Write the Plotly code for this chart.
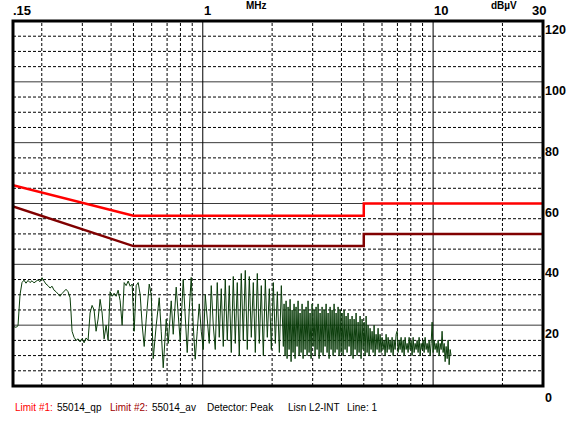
import math
import plotly.graph_objects as go

# ---------------- data ----------------
# Limit lines (EN 55014)
lim1_freq = [0.15, 0.5, 5.0, 5.0, 30.0]
lim1_db = [66, 56, 56, 60, 60]
lim2_freq = [0.15, 0.5, 5.0, 5.0, 30.0]
lim2_db = [59, 46, 46, 50, 50]

freq_a = [0.1515, 0.1546, 0.1577, 0.1609, 0.1641, 0.1674, 0.1708, 0.1743, 0.1778, 0.1814,
          0.1850, 0.1888, 0.1926, 0.1965, 0.2005, 0.2045, 0.2087, 0.2129, 0.2172, 0.2216,
          0.2261, 0.2307, 0.2353, 0.2401, 0.2449, 0.2499, 0.2549, 0.2601, 0.2654, 0.2680,
          0.2707, 0.2762, 0.2818, 0.2875, 0.2933, 0.2992, 0.3053, 0.3114, 0.3177, 0.3241,
          0.3307, 0.3374, 0.3442, 0.3512, 0.3583, 0.3656, 0.3730, 0.3805, 0.3882, 0.3960,
          0.4041, 0.4122, 0.4206, 0.4291, 0.4378, 0.4466, 0.4557, 0.4649, 0.4743, 0.4839,
          0.4937, 0.5037, 0.5139, 0.5243, 0.5349, 0.5457, 0.5568]
level_a = [19.5, 19.3, 19.8, 30, 34, 34.8, 33.8, 34.7, 34, 34.6,
           33.9, 34.4, 34.9, 34.3, 35.6, 34.5, 33.5, 33, 32.2, 32.8,
           31.5, 31, 30.3, 29.5, 30.4, 31, 31.8, 31, 29, 24,
           18, 16, 15, 15.5, 14.5, 15.5, 14.2, 15.8, 15, 24,
           26.5, 25, 18, 22, 28.5, 24, 15.5, 20, 15, 31,
           29.5, 30.5, 29.5, 31.5, 28, 20, 34, 33, 34.5, 32.8,
           33.5, 18, 33, 34, 30, 20, 13]

freq_b = [0.5682, 0.5855, 0.5973, 0.6094, 0.6279, 0.6470, 0.6601, 0.6735, 0.6939, 0.7080,
          0.7295, 0.7442, 0.7668, 0.7823, 0.7982, 0.8224, 0.8390, 0.8560, 0.8733, 0.8910,
          0.9090, 0.9274, 0.9462, 0.9653, 0.9849, 1.0048, 1.0251, 1.0458, 1.0669, 1.0885,
          1.1105, 1.1330, 1.1559, 1.1792, 1.2031, 1.2274, 1.2522, 1.2775, 1.3033, 1.3297,
          1.3566, 1.3840, 1.4120, 1.4405, 1.4696, 1.4993, 1.5297, 1.5606, 1.5922, 1.6244,
          1.6572, 1.6907, 1.7249, 1.7598, 1.7954, 1.8317, 1.8687, 1.9065, 1.9450, 1.9844,
          2.0245, 2.0654, 2.1072, 2.1498, 2.1933, 2.2376]
level_b = [22, 33.5, 30, 9, 20, 29, 18, 6, 22, 14,
           28, 17, 32.5, 24, 14.5, 35, 22, 11, 25, 35.7,
           20, 8.8, 18, 27, 18, 12, 30, 22, 14, 33,
           20, 12, 34, 16, 32, 13, 35, 15, 33, 11,
           36, 14, 34, 10, 37, 15, 38, 12, 36, 16,
           34, 11, 37, 14, 33, 10, 35, 16, 32, 12,
           34, 14, 31, 11, 33, 13]

freq_c = [2.254, 2.277, 2.300, 2.323, 2.346, 2.370, 2.394, 2.418, 2.442, 2.466,
          2.491, 2.516, 2.541, 2.567, 2.593, 2.619, 2.645, 2.672, 2.699, 2.726,
          2.753, 2.781, 2.809, 2.837, 2.865, 2.894, 2.923, 2.953, 2.982, 3.012,
          3.043, 3.073, 3.104, 3.135, 3.167, 3.199, 3.231, 3.263, 3.296, 3.329,
          3.363, 3.397, 3.431, 3.465, 3.500, 3.535, 3.571, 3.607, 3.643, 3.679,
          3.716, 3.753, 3.791, 3.829, 3.868, 3.906, 3.946, 3.985, 4.025, 4.066,
          4.107, 4.148, 4.190, 4.232, 4.274, 4.317, 4.361, 4.404, 4.449, 4.493,
          4.539, 4.584, 4.630, 4.677, 4.724, 4.771, 4.819, 4.867, 4.916, 4.966,
          5.017, 5.067, 5.118, 5.169, 5.221, 5.273, 5.326, 5.380, 5.434, 5.488,
          5.544, 5.599, 5.655, 5.712, 5.770, 5.828, 5.886, 5.945, 6.005, 6.065,
          6.128, 6.189, 6.251, 6.314, 6.377, 6.441, 6.506, 6.571, 6.637, 6.704,
          6.772, 6.840, 6.909, 6.978, 7.048, 7.119, 7.190, 7.262, 7.335, 7.409,
          7.484, 7.559, 7.635, 7.712, 7.789, 7.867, 7.946, 8.026, 8.106, 8.188,
          8.271, 8.354, 8.438, 8.522, 8.608, 8.694, 8.782, 8.870, 8.959, 9.049,
          9.141, 9.233, 9.325, 9.419, 9.514, 9.609, 9.706, 9.803, 9.902, 10.00,
          10.10, 10.20, 10.31, 10.41, 10.52, 10.62, 10.73, 10.84, 10.94, 11.05,
          11.17, 11.28, 11.39, 11.51, 11.62, 11.74, 11.86, 11.97]
level_c = [27, 10, 28, 9, 26, 12, 28.5, 8, 25, 11, 27, 9, 26, 13, 28, 10, 24,
           11, 27, 9, 25, 12, 26, 10, 28, 11, 24, 9, 27, 13, 25, 10, 26, 12, 27, 9, 24, 11,
           26, 10, 25, 13, 27, 11, 24, 9, 26, 12, 25, 10, 27, 11, 24, 12, 26, 10, 25, 11,
           24, 10, 25, 12, 23, 11, 24, 13, 22,
           10, 23, 9, 22, 12, 24, 10, 21, 11, 23, 9, 22, 12, 21, 10, 23, 11, 20,
           10, 19, 12, 18, 11, 20, 10, 17, 12, 19, 11, 17,
           11, 16, 12, 15, 10, 17, 11, 16, 12, 15, 11, 16, 10, 15, 12, 17, 18, 11, 15, 12,
           16, 11, 15, 10, 16, 12, 14, 11, 16, 12, 15, 10, 16, 11, 14, 12, 15, 11, 16, 10,
           14, 12, 15, 11, 16, 12, 14, 11, 15, 10, 14,
           21, 11, 15, 12, 14, 11, 15, 10, 14, 12, 18, 11, 14, 8, 13, 9, 15, 7, 12, 10]

assert len(freq_a) == len(level_a), (len(freq_a), len(level_a))
assert len(freq_b) == len(level_b), (len(freq_b), len(level_b))
assert len(freq_c) == len(level_c), (len(freq_c), len(level_c))

# Grid / tick definitions
grid_f_dashed = [0.2, 0.3, 0.4, 0.5, 0.6, 0.7, 0.8, 0.9, 2, 3, 4, 5, 6, 7, 8, 9, 20]
grid_f_solid = [1, 10]
grid_db_dashed = [5, 10, 15, 25, 30, 35, 45, 50, 55, 65, 70, 75, 85, 90, 95, 105, 110, 115]
grid_db_solid = [20, 40, 60, 80, 100]
x_tick_vals = [0.15, 1, 10, 30]
x_tick_text = [".15", "1", "10", "30"]
y_tick_vals = [120, 100, 80, 60, 40, 20, 0]

legend_parts = [("Limit #1:", "#ff0000", 14), ("55014_qp", "#000000", 56),
                ("Limit #2:", "#a00000", 109), ("55014_av", "#000000", 151),
                ("Detector: Peak", "#000000", 206), ("Lisn L2-INT", "#000000", 287),
                ("Line: 1", "#000000", 346)]

F_MIN, F_MAX = 0.15, 30.0
DB_MIN, DB_MAX = 0, 120

# ---------------- figure ----------------
fig = go.Figure()

def seg_lines(vals, vertical):
    xs, ys = [], []
    for v in vals:
        if vertical:
            xs += [v, v, None]
            ys += [DB_MIN, DB_MAX, None]
        else:
            xs += [F_MIN, F_MAX, None]
            ys += [v, v, None]
    return xs, ys

for vals, vert, dash, col in [
    (grid_db_dashed, False, "3px,2px", "#000000"),
    (grid_f_dashed, True, "3px,2px", "#000000"),
    (grid_db_solid, False, "solid", "#3a3a3a"),
    (grid_f_solid, True, "solid", "#000000"),
]:
    xs, ys = seg_lines(vals, vert)
    fig.add_trace(go.Scatter(x=xs, y=ys, mode="lines", hoverinfo="skip",
                             line=dict(color=col, width=1, dash=dash)))

fig.add_trace(go.Scatter(x=freq_a + freq_b + freq_c, y=level_a + level_b + level_c,
                         mode="lines", line=dict(color="#0b3d0b", width=1)))
fig.add_trace(go.Scatter(x=lim1_freq, y=lim1_db, mode="lines",
                         line=dict(color="#ff0000", width=2.5)))
fig.add_trace(go.Scatter(x=lim2_freq, y=lim2_db, mode="lines",
                         line=dict(color="#800000", width=2.5)))

# border
fig.add_shape(type="rect", xref="paper", yref="paper", x0=0, x1=1, y0=0, y1=1,
              line=dict(color="black", width=3), layer="above")

LBL = "Liberation Sans Narrow, Arial Narrow, Liberation Sans, Arial, sans-serif"
PLOT_W = 568 - 13 - 25

for v, t in zip(x_tick_vals, x_tick_text):
    anchor = "left"
    xs = -2 if v == F_MIN else -1
    if v == F_MAX:
        anchor, xs = "right", 5
    fig.add_annotation(x=math.log10(v), xref="x", y=1, yref="paper", text="<b>%s</b>" % t,
                       showarrow=False, xanchor=anchor, yanchor="bottom", xshift=xs, yshift=1,
                       font=dict(family=LBL, size=13, color="black"))

for v in y_tick_vals:
    fig.add_annotation(x=1, xref="paper", y=v, yref="y", text="<b>%d</b>" % v,
                       showarrow=False, xanchor="left", yanchor="top", xshift=0, yshift=0 if v else -3,
                       font=dict(family=LBL, size=12.5, color="black"))

for txt, xpix in [("MHz", 256), ("dBµV", 504)]:
    fig.add_annotation(x=(xpix - 13) / PLOT_W, xref="paper", y=1, yref="paper", text="<b>%s</b>" % txt,
                       showarrow=False, xanchor="center", yanchor="middle", yshift=16,
                       font=dict(family=LBL, size=10, color="black"))

for txt, col, xpix in legend_parts:
    fig.add_annotation(x=(xpix - 13) / PLOT_W, xref="paper", y=0, yref="paper", text=txt,
                       showarrow=False, xanchor="left", yanchor="middle", yshift=-21, xshift=-1,
                       font=dict(family="Liberation Sans Narrow, Arial Narrow, Liberation Sans, Arial, sans-serif",
                                 size=10, color=col))

fig.update_layout(
    width=568, height=421,
    margin=dict(l=13, r=25, t=21, b=35, pad=0),
    paper_bgcolor="white", plot_bgcolor="white",
    showlegend=False,
    xaxis=dict(type="log", range=[math.log10(F_MIN), math.log10(F_MAX)], showgrid=False,
               zeroline=False, showticklabels=False, ticks=""),
    yaxis=dict(range=[DB_MIN, DB_MAX], showgrid=False, zeroline=False, showticklabels=False,
               ticks=""),
)

fig.write_html("out.html")
